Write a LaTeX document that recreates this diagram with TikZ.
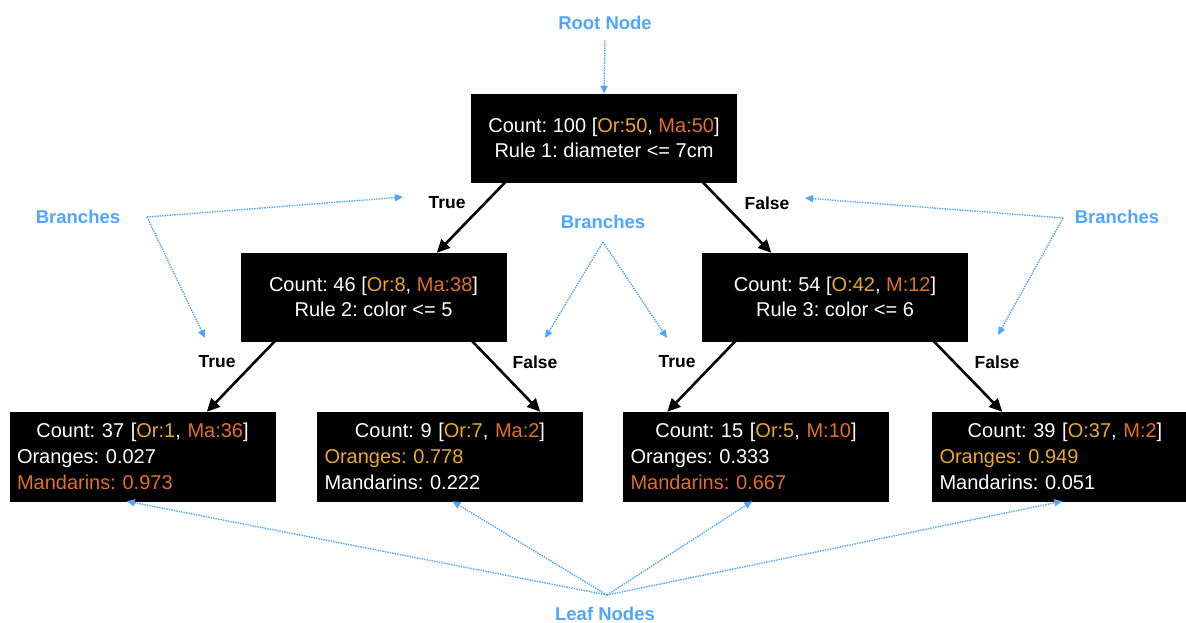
\documentclass[tikz,border=0pt]{standalone}
\usepackage{fontspec}
\setmainfont{Liberation Sans}
\usetikzlibrary{arrows.meta,calc}
\definecolor{lblue}{RGB}{77,166,255}
\definecolor{cOr}{RGB}{234,168,44}
\definecolor{cMa}{RGB}{226,112,36}
\frenchspacing
\begin{document}
\begin{tikzpicture}[x=1pt,y=-1pt,
  box/.style={fill=black, draw=black, minimum width=265pt, minimum height=88pt, inner sep=0pt, text=white, font=\fontsize{20}{25}\selectfont, align=center},
  leafbox/.style={box, minimum height=89pt, text width=251pt, align=left, inner xsep=7pt, font=\fontsize{20}{26}\selectfont},
  blk/.style={-{Triangle[length=13pt,width=12pt]}, line width=2.6pt, black},
  blu/.style={-{Triangle[length=8pt,width=7pt]}, lblue, line width=1.4pt, dash pattern=on 1.4pt off 1.1pt},
  bluelab/.style={text=lblue, font=\fontsize{18.5}{20}\selectfont\bfseries, inner sep=0pt},
  edgelab/.style={font=\fontsize{17.5}{19}\selectfont\bfseries, inner sep=0pt}
]
\useasboundingbox (0,0) rectangle (1186,623);
\clip (0,0) rectangle (1186,623);

% decision nodes
\node[box] (root) at (604,138) {Count: 100 [\textcolor{cOr}{Or:50}, \textcolor{cMa}{Ma:50}]\\Rule 1: diameter <= 7cm};
\node[box] (l2a) at (373.5,297) {Count: 46 [\textcolor{cOr}{Or:8}, \textcolor{cMa}{Ma:38}]\\Rule 2: color <= 5};
\node[box] (l2b) at (835,297) {Count: 54 [\textcolor{cOr}{O:42}, \textcolor{cMa}{M:12}]\\Rule 3: color <= 6};

% leaves
\node[leafbox] (lf1) at (142.5,456.5) {\makebox[\linewidth][c]{Count: 37 [\textcolor{cOr}{Or:1}, \textcolor{cMa}{Ma:36}]}\\Oranges: 0.027\\\textcolor{cMa}{Mandarins: 0.973}};
\node[leafbox] (lf2) at (450,456.5) {\makebox[\linewidth][c]{Count: 9 [\textcolor{cOr}{Or:7}, \textcolor{cMa}{Ma:2}]}\\\textcolor{cOr}{Oranges: 0.778}\\Mandarins: 0.222};
\node[leafbox] (lf3) at (756,456.5) {\makebox[\linewidth][c]{Count: 15 [\textcolor{cOr}{Or:5}, \textcolor{cMa}{M:10}]}\\Oranges: 0.333\\\textcolor{cMa}{Mandarins: 0.667}};
\node[leafbox] (lf4) at (1065,456.5) {\makebox[\linewidth][c]{Count: 39 [\textcolor{cOr}{O:37}, \textcolor{cMa}{M:2}]}\\\textcolor{cOr}{Oranges: 0.949}\\Mandarins: 0.051};

% black branches
\draw[blk] ([xshift=34pt]root.south west) -- ([xshift=196pt]l2a.north west);
\draw[blk] ([xshift=-34pt]root.south east) -- ([xshift=69pt]l2b.north west);
\draw[blk] ([xshift=34pt]l2a.south west) -- ([xshift=197pt]lf1.north west);
\draw[blk] ([xshift=-34pt]l2a.south east) -- ([xshift=223pt]lf2.north west);
\draw[blk] ([xshift=33pt]l2b.south west) -- ([xshift=44pt]lf3.north west);
\draw[blk] ([xshift=-34pt]l2b.south east) -- ([xshift=70pt]lf4.north west);

% branch labels
\node[edgelab] (t1) at (447,203) {True};
\node[edgelab] (f1) at (767,203) {False};
\node[edgelab] (t2) at (217,362) {True};
\node[edgelab] (f2) at (535,362) {False};
\node[edgelab] (t3) at (677,362) {True};
\node[edgelab] (f3) at (997,362) {False};

% blue annotations
\node[bluelab] (rootlab) at (605,23) {Root Node};
\coordinate (rs) at (605,40);
\draw[blu] (rs) -- (root.north);

\node[bluelab] (brL) at (78,217) {Branches};
\coordinate (bL) at (147,217);
\coordinate (bLa) at (403,197);
\coordinate (bLb) at (205,338);
\draw[blu] (bL) -- (bLa);
\draw[blu] (bL) -- (bLb);

\node[bluelab] (brC) at (603,222) {Branches};
\coordinate (bC) at (603,242);
\coordinate (bCa) at (545,338);
\coordinate (bCb) at (667,338);
\draw[blu] (bC) -- (bCa);
\draw[blu] (bC) -- (bCb);

\node[bluelab] (brR) at (1117,217) {Branches};
\coordinate (bR) at (1063,218);
\coordinate (bRa) at (805,198);
\coordinate (bRb) at (998,335);
\draw[blu] (bR) -- (bRa);
\draw[blu] (bR) -- (bRb);

\node[bluelab] (leaflab) at (605,614) {Leaf Nodes};
\coordinate (lA) at (607,595);
\draw[blu] (lA) -- ([xshift=117pt]lf1.south west);
\draw[blu] (lA) -- ([xshift=135pt]lf2.south west);
\draw[blu] (lA) -- ([xshift=129pt]lf3.south west);
\draw[blu] (lA) -- ([xshift=130pt]lf4.south west);
\end{tikzpicture}
\end{document}
